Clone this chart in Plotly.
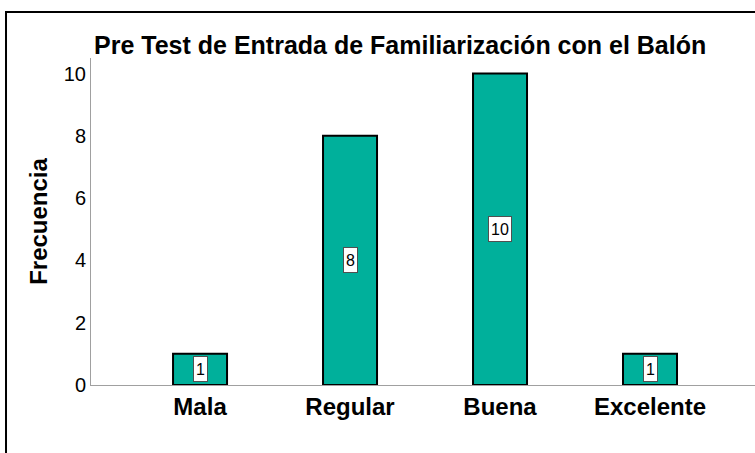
import plotly.graph_objs as go

categorias = ["Mala", "Regular", "Buena", "Excelente"]
frecuencias = [1, 8, 10, 1]
ticks_y = [0, 2, 4, 6, 8, 10]

fig = go.Figure()

fig.add_trace(
    go.Bar(
        x=categorias,
        y=frecuencias,
        width=0.36,
        marker=dict(color="#00B09B", line=dict(color="black", width=2)),
        hoverinfo="x+y",
    )
)

# etiquetas con caja blanca en el centro de cada barra
for cat, val in zip(categorias, frecuencias):
    texto = str(val)
    fig.add_annotation(
        x=cat,
        y=val / 2,
        text=texto,
        showarrow=False,
        font=dict(family="Arial", size=16, color="black"),
        bgcolor="white",
        bordercolor="#505050",
        borderwidth=1,
        borderpad=1,
        width=9 * len(texto) + 2,
        height=22,
    )

# marco exterior
fig.add_shape(
    type="rect",
    xref="paper",
    yref="paper",
    x0=-0.128,
    x1=1.05,
    y0=-0.5,
    y1=1.141,
    line=dict(color="black", width=2),
    fillcolor="rgba(0,0,0,0)",
)

fig.update_layout(
    title=dict(
        text="<b>Pre Test de Entrada de Familiarización con el Balón</b>",
        x=0.53,
        xanchor="center",
        y=0.9,
        yanchor="middle",
        font=dict(family="Arial", size=25, color="black"),
    ),
    width=755,
    height=453,
    margin=dict(l=91, r=0, t=58, b=68),
    plot_bgcolor="white",
    paper_bgcolor="white",
    showlegend=False,
    font=dict(family="Arial", color="black"),
)

fig.update_xaxes(
    range=[-0.727, 3.7],
    showline=True,
    linecolor="#A0A0A0",
    linewidth=1,
    showgrid=False,
    ticks="",
    tickfont=dict(family="Arial", size=24, color="black"),
    tickprefix="<b>",
    ticksuffix="</b>",
)

fig.update_yaxes(
    range=[0, 10.5],
    tickvals=ticks_y,
    showline=True,
    linecolor="#A0A0A0",
    linewidth=1,
    showgrid=False,
    zeroline=False,
    ticks="",
    ticklabelstandoff=0,
    tickfont=dict(family="Arial", size=20, color="black"),
    title=dict(
        text="<b>Frecuencia</b>",
        font=dict(family="Arial", size=24, color="black"),
        standoff=9,
    ),
)

fig.write_html(
    "out.html",
    config={"displayModeBar": False},
    post_script="document.body.style.margin='0px';",
)
